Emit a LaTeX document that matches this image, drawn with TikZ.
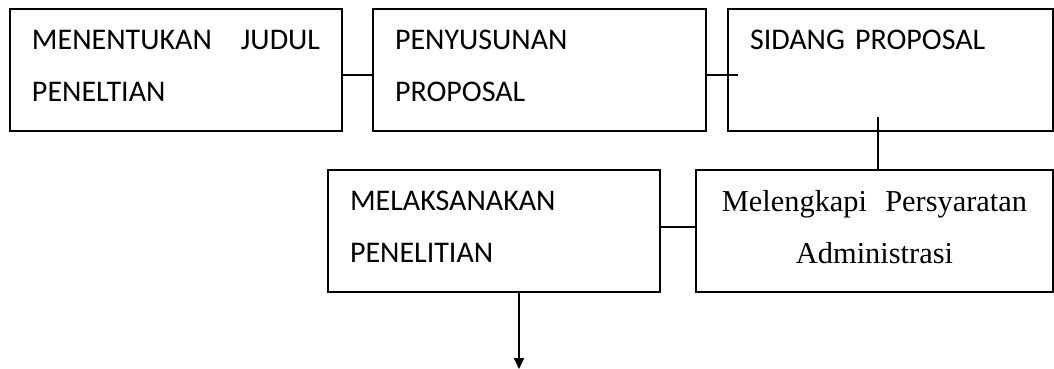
\documentclass[tikz,border=0pt]{standalone}
\usepackage{fontspec}
\setmainfont{Carlito}
\newfontfamily\timesfont{Liberation Serif}
\usepackage{tikz}
\usetikzlibrary{arrows.meta, positioning}
\tikzset{
  tahap/.style={rectangle, draw=black, line width=0.9pt, minimum height=61pt,
    outer sep=0pt, inner xsep=11pt, text width=144pt, text depth=30.5pt, align=left,
    font=\fontsize{15}{26}\selectfont},
  garis/.style={line width=0.9pt, black},
  panah/.style={-{Triangle[width=5pt,length=5.5pt]}, line width=0.9pt, black}
}

\begin{document}
\begin{tikzpicture}
  \useasboundingbox (0,0) rectangle (527pt,-184.5pt);
  \node[tahap, anchor=north west] (t1) at (5pt,-4.5pt)
    {MENENTUKAN\hspace{0pt plus 1filll}JUDUL\\PENELTIAN};
  \node[tahap, right=15.5pt of t1, text width=144.5pt] (t2) {PENYUSUNAN\\PROPOSAL};
  \node[tahap, right=11pt of t2, text width=140.5pt] (t3) {SIDANG PROPOSAL\\ \strut};
  \node[tahap, below=19.5pt of t3.south east, anchor=north east, text width=156.5pt,
    align=center, font=\timesfont\fontsize{15.2}{26}\selectfont] (t5)
    {Melengkapi\hspace{0.6em}Persyaratan\\Administrasi};
  \node[tahap, left=18pt of t5] (t4) {MELAKSANAKAN\\PENELITIAN};
  \coordinate (akhir) at ([xshift=12.5pt,yshift=-38.5pt]t4.south);
  \draw[garis] ([yshift=-2.5pt]t1.east) -- ([yshift=-2.5pt]t2.west);
  \draw[garis] ([yshift=-2.5pt]t2.east) -- ([xshift=5pt,yshift=-2.5pt]t3.west);
  \draw[garis] ([xshift=1.75pt]t5.north) -- ([xshift=1.75pt,yshift=7pt]t5.north |- t3.south);
  \draw[garis] ([yshift=2pt]t4.east) -- ([yshift=2pt]t5.west);
  \draw[panah] ([xshift=12.5pt]t4.south) -- (akhir);
\end{tikzpicture}
\end{document}
